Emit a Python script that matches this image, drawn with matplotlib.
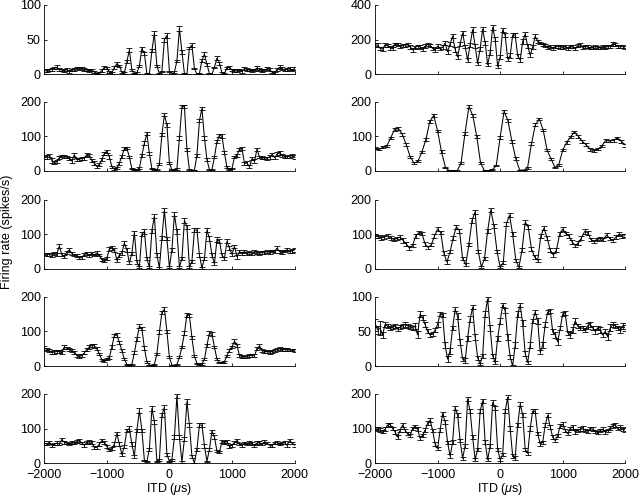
import numpy as np
import matplotlib
matplotlib.use('Agg')
import matplotlib.pyplot as plt

plt.rcParams['font.family'] = ['Liberation Sans', 'DejaVu Sans']
plt.rcParams['font.size'] = 9
plt.rcParams['mathtext.fontset'] = 'custom'
plt.rcParams['mathtext.it'] = 'Liberation Sans:italic'
plt.rcParams['mathtext.rm'] = 'Liberation Sans'

# ITD sampling grids (us)
itd40 = np.arange(-2000, 2001, 40)
itd50 = np.arange(-2000, 2001, 50)
itd62 = np.linspace(-2000, 2000, 65)

# left column, top to bottom
rate_l1 = [5, 5, 6, 7, 9, 10, 7, 6, 5, 7,
           4, 6, 7, 8, 9, 8, 7, 6, 5, 6,
           3, 1, 2, 5, 10, 9, 3, 2, 10, 15,
           12, 3, 2, 18, 35, 6, 1, 2, 12, 37,
           30, 1, 0, 34, 59, 12, 1, 4, 50, 56,
           4, 0, 3, 19, 66, 32, 1, 0, 38, 42,
           8, 0, 1, 20, 29, 14, 1, 0, 10, 23,
           16, 2, 1, 9, 10, 6, 5, 5, 6, 4,
           8, 7, 6, 5, 6, 9, 7, 5, 6, 8,
           7, 3, 2, 7, 10, 8, 6, 7, 8, 6,
           8]
err_l1 = [2, 2, 2, 2, 2, 3, 2, 2, 2, 2,
          2, 2, 2, 2, 2, 2, 2, 2, 2, 2,
          1, 1, 1, 2, 2, 2, 1, 1, 2, 3,
          2, 1, 1, 2, 3, 1, 1, 1, 2, 3,
          2, 1, 0, 2, 3, 2, 1, 1, 3, 3,
          1, 0, 1, 2, 4, 3, 1, 0, 2, 3,
          1, 0, 1, 2, 3, 2, 1, 0, 1, 3,
          2, 1, 1, 2, 2, 2, 2, 2, 2, 2,
          2, 2, 2, 2, 2, 3, 2, 2, 2, 2,
          2, 1, 1, 2, 3, 2, 2, 2, 2, 2,
          2]

rate_l2 = [38, 40, 45, 30, 24, 26, 38, 43, 42, 40,
           36, 28, 46, 32, 33, 36, 36, 47, 44, 30,
           22, 13, 18, 33, 50, 56, 40, 12, 5, 8,
           22, 42, 64, 65, 40, 6, 3, 3, 8, 45,
           80, 107, 50, 6, 4, 3, 20, 105, 162, 133,
           22, 3, 2, 5, 95, 186, 185, 62, 3, 2,
           2, 45, 145, 180, 95, 32, 3, 3, 40, 85,
           103, 100, 52, 10, 4, 6, 40, 45, 62, 64,
           22, 22, 12, 35, 28, 62, 40, 38, 37, 36,
           40, 47, 38, 48, 52, 45, 42, 40, 42, 44,
           40]
err_l2 = [5, 6, 5, 6, 5, 4, 5, 4, 4, 4,
          5, 5, 6, 5, 4, 4, 4, 5, 5, 5,
          5, 4, 5, 5, 5, 4, 5, 3, 2, 3,
          4, 4, 4, 3, 4, 2, 1, 1, 2, 4,
          5, 4, 5, 2, 1, 1, 3, 5, 5, 5,
          3, 1, 1, 2, 5, 4, 4, 5, 1, 1,
          1, 4, 5, 5, 5, 4, 1, 1, 4, 5,
          4, 5, 4, 3, 2, 2, 4, 4, 5, 5,
          4, 5, 4, 5, 5, 5, 4, 4, 4, 4,
          5, 5, 4, 5, 5, 4, 5, 4, 5, 5,
          5]

rate_l3 = [43, 42, 42, 40, 44, 42, 66, 42, 36, 48,
           55, 45, 40, 38, 33, 32, 42, 45, 38, 45,
           40, 46, 40, 27, 24, 30, 58, 60, 55, 25,
           40, 46, 75, 55, 18, 45, 105, 20, 5, 100,
           108, 30, 5, 110, 152, 40, 3, 90, 170, 88,
           5, 55, 158, 108, 5, 30, 140, 122, 5, 22,
           112, 112, 40, 3, 30, 112, 88, 40, 15, 85,
           80, 40, 30, 80, 60, 42, 65, 35, 50, 45,
           50, 45, 48, 45, 50, 48, 45, 48, 48, 50,
           48, 52, 50, 60, 50, 48, 52, 55, 50, 52,
           55]
err_l3 = [4, 4, 4, 5, 4, 4, 6, 5, 4, 5,
          5, 4, 4, 5, 4, 4, 5, 5, 4, 4,
          4, 5, 4, 5, 4, 5, 6, 5, 5, 5,
          5, 5, 6, 5, 4, 5, 6, 5, 3, 6,
          6, 5, 3, 6, 6, 5, 3, 5, 6, 5,
          3, 5, 6, 6, 3, 5, 6, 6, 3, 5,
          6, 6, 5, 3, 5, 6, 6, 5, 4, 6,
          6, 5, 5, 6, 5, 5, 5, 5, 4, 4,
          4, 4, 4, 4, 4, 4, 4, 4, 4, 4,
          4, 4, 4, 5, 4, 4, 4, 4, 4, 5,
          5]

rate_l4 = [52, 48, 44, 40, 40, 42, 42, 38, 55, 52,
           48, 44, 40, 30, 28, 30, 38, 48, 55, 60,
           58, 50, 35, 18, 14, 20, 25, 55, 88, 90,
           68, 45, 20, 5, 2, 5, 38, 78, 115, 108,
           52, 12, 3, 2, 5, 35, 98, 155, 165, 100,
           25, 3, 2, 4, 25, 55, 95, 148, 146, 82,
           28, 8, 4, 6, 20, 60, 95, 92, 55, 20,
           10, 10, 12, 30, 45, 55, 72, 60, 30, 28,
           25, 28, 30, 30, 30, 50, 58, 45, 42, 42,
           40, 42, 44, 48, 50, 48, 48, 47, 46, 46,
           45]
err_l4 = [5, 4, 4, 4, 5, 4, 4, 4, 5, 4,
          4, 4, 4, 4, 4, 4, 4, 4, 5, 5,
          5, 4, 4, 3, 3, 4, 4, 5, 5, 5,
          5, 4, 3, 2, 1, 2, 4, 5, 6, 5,
          5, 3, 1, 1, 2, 4, 5, 5, 6, 5,
          3, 1, 1, 2, 3, 4, 5, 5, 5, 5,
          3, 2, 1, 2, 3, 4, 5, 5, 4, 3,
          2, 2, 3, 3, 4, 4, 5, 4, 4, 4,
          3, 4, 4, 4, 4, 4, 5, 4, 4, 4,
          4, 4, 4, 4, 4, 4, 4, 4, 4, 4,
          4]

rate_l5 = [58, 55, 60, 52, 55, 58, 55, 68, 60, 58,
           55, 60, 58, 62, 66, 58, 52, 60, 62, 60,
           45, 46, 55, 65, 60, 48, 38, 42, 55, 85,
           55, 25, 48, 95, 100, 55, 20, 95, 152, 95,
           8, 5, 40, 158, 120, 5, 10, 138, 162, 25,
           5, 10, 75, 195, 75, 3, 70, 178, 110, 20,
           0, 40, 110, 110, 50, 5, 40, 92, 75, 35,
           32, 62, 60, 62, 48, 52, 60, 65, 55, 52,
           58, 55, 60, 56, 52, 58, 60, 55, 62, 58,
           52, 50, 58, 60, 55, 58, 60, 52, 65, 58,
           52]
err_l5 = [5, 4, 5, 4, 4, 5, 4, 5, 5, 4,
          4, 5, 4, 5, 5, 4, 4, 5, 4, 4,
          4, 4, 5, 5, 5, 4, 4, 4, 5, 5,
          5, 4, 5, 5, 6, 5, 4, 5, 6, 5,
          2, 2, 4, 6, 6, 2, 3, 6, 6, 4,
          2, 3, 5, 6, 5, 2, 5, 6, 6, 4,
          1, 4, 5, 6, 5, 2, 4, 5, 5, 4,
          4, 5, 5, 5, 4, 4, 5, 5, 4, 4,
          4, 4, 5, 4, 4, 5, 4, 4, 5, 4,
          4, 4, 4, 5, 4, 4, 5, 4, 5, 4,
          4]

# right column, top to bottom
rate_r1 = [172, 168, 150, 145, 170, 165, 152, 148, 175, 170,
           162, 165, 168, 172, 158, 140, 155, 162, 158, 145,
           162, 172, 168, 150, 140, 162, 150, 155, 180, 130,
           175, 220, 143, 100, 175, 238, 160, 82, 170, 258,
           164, 62, 148, 260, 182, 55, 125, 270, 204, 45,
           99, 255, 225, 88, 108, 226, 227, 106, 82, 189,
           231, 162, 110, 156, 220, 190, 180, 172, 165, 155,
           158, 150, 160, 162, 158, 155, 160, 150, 162, 158,
           150, 165, 172, 155, 160, 158, 152, 155, 160, 156,
           152, 158, 155, 160, 162, 175, 170, 160, 158, 160,
           155]
err_r1 = [10, 12, 10, 12, 10, 8, 10, 10, 8, 8,
          8, 10, 8, 8, 10, 12, 10, 8, 10, 12,
          10, 8, 8, 10, 12, 10, 10, 12, 10, 12,
          10, 12, 12, 10, 12, 12, 10, 10, 12, 12,
          12, 10, 12, 12, 12, 10, 12, 12, 12, 10,
          12, 12, 12, 10, 12, 12, 12, 10, 10, 12,
          12, 12, 10, 12, 10, 8, 8, 8, 8, 8,
          8, 10, 8, 8, 10, 8, 8, 10, 8, 8,
          8, 10, 8, 8, 8, 8, 8, 8, 8, 8,
          8, 8, 8, 8, 8, 10, 8, 8, 8, 8,
          8]

rate_r2 = [65, 62, 68, 72, 95, 120, 122, 105, 75, 40,
           22, 28, 55, 90, 142, 160, 115, 55, 10, 0,
           0, 0, 22, 108, 185, 160, 100, 22, 0, 0,
           3, 15, 97, 172, 145, 85, 35, 2, 2, 8,
           78, 133, 150, 118, 60, 35, 10, 18, 60, 82,
           98, 112, 100, 85, 75, 62, 58, 62, 72, 88,
           86, 88, 95, 85, 74]
err_r2 = [3, 3, 3, 3, 4, 4, 4, 4, 4, 3,
          3, 3, 3, 4, 4, 4, 4, 4, 2, 1,
          1, 1, 3, 4, 4, 4, 4, 3, 1, 1,
          1, 2, 4, 4, 4, 4, 4, 1, 1, 2,
          4, 4, 4, 4, 4, 3, 2, 3, 4, 4,
          4, 4, 4, 4, 4, 4, 4, 3, 3, 4,
          3, 4, 4, 4, 4]

rate_r3 = [95, 93, 90, 92, 95, 90, 85, 88, 92, 82,
           72, 60, 68, 95, 105, 102, 72, 62, 70, 95,
           115, 105, 45, 20, 50, 90, 122, 110, 30, 12,
           70, 140, 165, 50, 5, 30, 110, 170, 125, 50,
           5, 18, 130, 155, 100, 25, 5, 55, 135, 120,
           58, 35, 25, 95, 118, 90, 55, 40, 55, 100,
           115, 102, 95, 78, 68, 75, 90, 108, 105, 85,
           80, 85, 88, 85, 98, 88, 82, 92, 100, 95,
           96]
err_r3 = [5, 5, 5, 5, 5, 5, 5, 5, 5, 6,
          6, 5, 5, 5, 5, 5, 6, 5, 5, 5,
          5, 5, 6, 5, 5, 5, 6, 6, 5, 4,
          5, 6, 6, 5, 3, 5, 6, 6, 6, 5,
          3, 4, 6, 6, 6, 5, 3, 5, 6, 6,
          5, 5, 5, 6, 6, 6, 5, 5, 5, 6,
          6, 5, 5, 5, 5, 5, 5, 6, 6, 5,
          5, 5, 5, 5, 5, 5, 5, 5, 6, 5,
          5]

rate_r4 = [62, 52, 55, 45, 60, 58, 55, 56, 58, 54,
           56, 58, 60, 58, 56, 55, 58, 45, 75, 70,
           60, 50, 45, 46, 52, 60, 75, 74, 30, 10,
           22, 55, 82, 72, 35, 10, 8, 40, 68, 85,
           42, 12, 3, 15, 75, 97, 55, 15, 5, 40,
           65, 88, 80, 42, 13, 0, 30, 75, 88, 62,
           18, 5, 30, 65, 78, 65, 20, 30, 60, 78,
           80, 50, 45, 35, 55, 75, 76, 48, 45, 52,
           65, 58, 55, 55, 52, 58, 60, 55, 50, 55,
           52, 45, 50, 42, 55, 60, 58, 55, 52, 58,
           55]
err_r4 = [6, 6, 10, 4, 3, 3, 3, 3, 3, 3,
          3, 3, 3, 3, 3, 3, 4, 5, 4, 4,
          4, 3, 3, 3, 3, 3, 3, 3, 4, 4,
          4, 3, 3, 4, 4, 3, 3, 4, 4, 3,
          4, 3, 2, 3, 4, 3, 4, 3, 2, 4,
          4, 3, 4, 4, 3, 2, 4, 4, 3, 4,
          3, 2, 4, 3, 3, 4, 3, 4, 4, 3,
          3, 4, 4, 4, 3, 3, 3, 3, 4, 4,
          4, 3, 3, 3, 3, 4, 3, 3, 4, 3,
          4, 3, 3, 4, 5, 4, 3, 3, 4, 4,
          4]

rate_r5 = [100, 98, 95, 92, 98, 110, 112, 100, 90, 75,
           95, 110, 95, 85, 80, 100, 106, 98, 72, 80,
           95, 115, 124, 95, 55, 42, 95, 143, 120, 60,
           20, 60, 160, 140, 65, 14, 50, 185, 150, 75,
           10, 40, 150, 180, 60, 10, 50, 175, 160, 40,
           10, 25, 150, 190, 100, 20, 15, 110, 170, 140,
           40, 28, 100, 150, 150, 85, 55, 60, 110, 138,
           105, 75, 65, 80, 108, 112, 95, 85, 100, 105,
           90, 95, 98, 100, 95, 92, 100, 98, 92, 88,
           95, 98, 90, 95, 102, 108, 110, 100, 104, 98,
           96]
err_r5 = [5, 5, 6, 5, 5, 6, 5, 5, 5, 6,
          5, 5, 5, 5, 5, 5, 5, 5, 5, 5,
          6, 6, 6, 5, 5, 5, 6, 6, 6, 5,
          5, 6, 6, 6, 5, 5, 6, 6, 6, 6,
          4, 5, 6, 6, 6, 4, 5, 6, 6, 5,
          4, 5, 6, 6, 6, 5, 5, 6, 6, 6,
          5, 5, 6, 6, 6, 5, 5, 5, 6, 6,
          6, 5, 5, 5, 6, 6, 5, 5, 5, 5,
          5, 5, 5, 6, 5, 5, 5, 5, 5, 5,
          5, 5, 5, 5, 5, 6, 6, 5, 6, 5,
          5]

left_panels = [(itd40, rate_l1, err_l1, 100, [0, 50, 100]),
               (itd40, rate_l2, err_l2, 200, [0, 100, 200]),
               (itd40, rate_l3, err_l3, 200, [0, 100, 200]),
               (itd40, rate_l4, err_l4, 200, [0, 100, 200]),
               (itd40, rate_l5, err_l5, 200, [0, 100, 200])]
right_panels = [(itd40, rate_r1, err_r1, 400, [0, 200, 400]),
                (itd62, rate_r2, err_r2, 200, [0, 100, 200]),
                (itd50, rate_r3, err_r3, 200, [0, 100, 200]),
                (itd40, rate_r4, err_r4, 100, [0, 50, 100]),
                (itd40, rate_r5, err_r5, 200, [0, 100, 200])]

fig = plt.figure(figsize=(6.4, 4.98), dpi=100)

bottoms = [0.851, 0.657, 0.460, 0.265, 0.070]
height = 0.139


def draw_panel(ax, x, y, e, ymax, yticks, last):
    ax.errorbar(x, y, yerr=e, color='k', lw=0.75, elinewidth=0.6,
                capsize=2, capthick=0.6)
    ax.set_xlim(-2000, 2000)
    ax.set_ylim(0, ymax)
    ax.set_yticks(yticks)
    ax.set_xticks([-2000, -1000, 0, 1000, 2000])
    ax.spines['top'].set_visible(False)
    ax.spines['right'].set_visible(False)
    ax.spines['left'].set_linewidth(0.6)
    ax.spines['bottom'].set_linewidth(0.6)
    ax.tick_params(direction='in', length=2.5, width=0.6, pad=2.5, labelsize=9)
    ax.tick_params(axis='x', pad=4)
    if last:
        ax.set_xlabel(r'ITD ($\mu$s)', fontsize=9, labelpad=0)
    else:
        ax.tick_params(axis='x', labelbottom=False)


for col, (left, panels) in enumerate([(0.0692, left_panels), (0.586, right_panels)]):
    for row, (x, y, e, ymax, yt) in enumerate(panels):
        ax = fig.add_axes([left, bottoms[row], 0.391, height])
        draw_panel(ax, x, y, e, ymax, yt, row == 4)

fig.text(0.011, 0.534, 'Firing rate (spikes/s)', rotation=90,
         ha='center', va='center', fontsize=9)

fig.savefig('out.png', dpi=100)
